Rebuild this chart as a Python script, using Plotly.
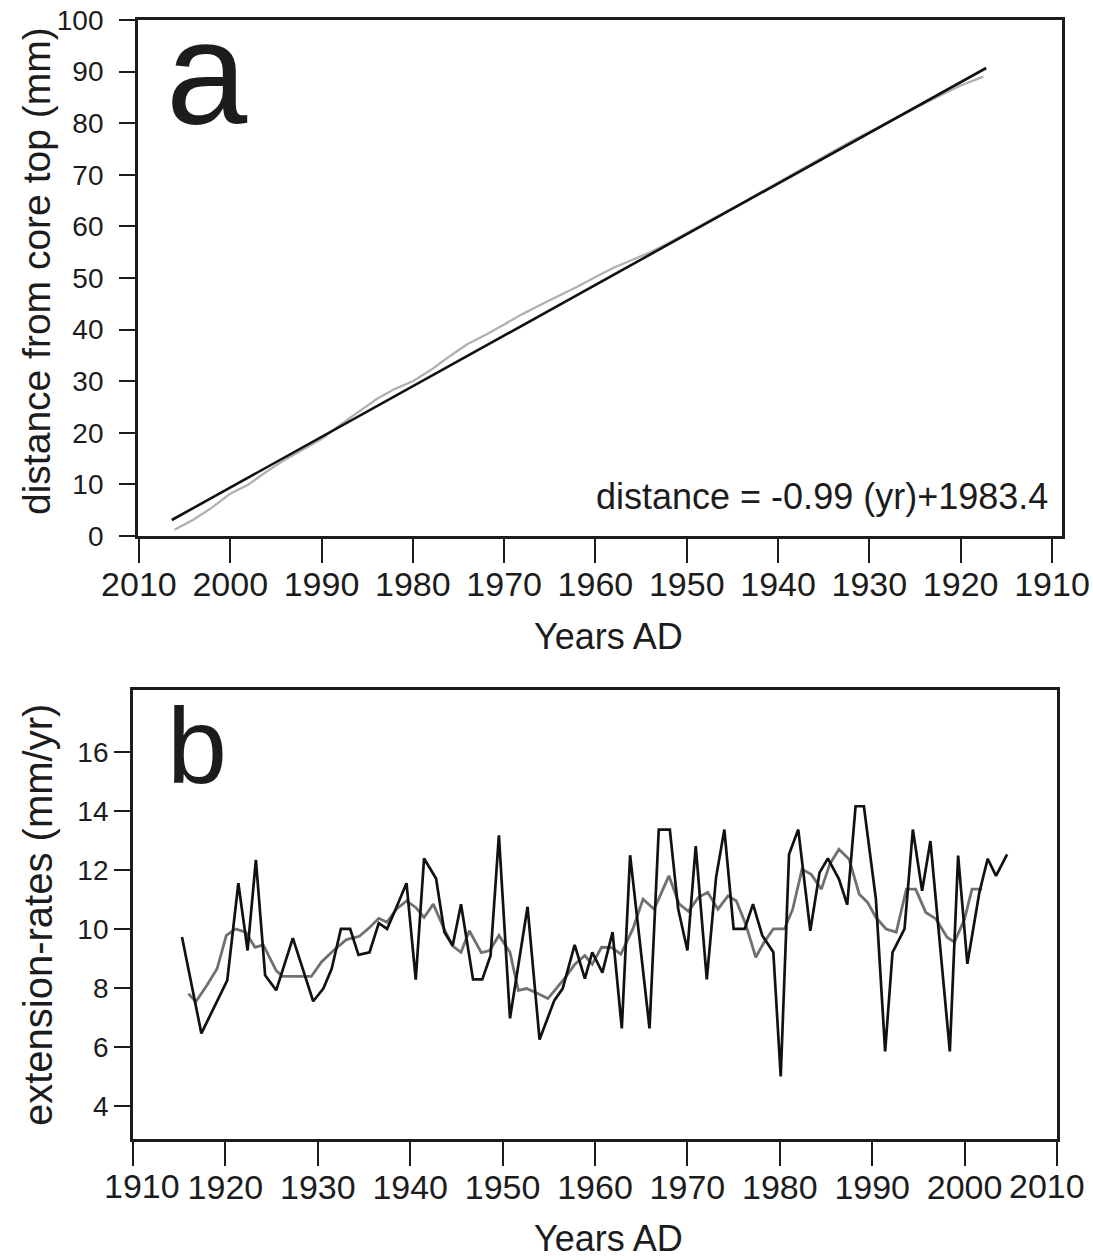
import plotly.graph_objects as go

W, H = 1093, 1260

# ---------------- Panel a data ----------------
a_years = [2006.1, 2004.0, 2002.0, 2000.0, 1998.0, 1996.0, 1994.0, 1992.0, 1990.0, 1988.0,
           1986.0, 1984.0, 1982.0, 1980.0, 1978.0, 1976.0, 1974.0, 1972.0, 1970.0, 1968.0,
           1966.0, 1964.0, 1962.0, 1960.0, 1958.0, 1956.0, 1954.0, 1952.0, 1950.0, 1948.0,
           1946.0, 1944.0, 1942.0, 1940.0, 1938.0, 1936.0, 1934.0, 1932.0, 1930.0, 1928.0,
           1926.0, 1924.0, 1922.0, 1920.0, 1918.0, 1917.5]
a_dist = [1.2, 3.2, 5.5, 8.2, 10.0, 12.5, 14.8, 16.8, 18.8, 21.5,
          24.0, 26.5, 28.5, 30.0, 32.2, 34.8, 37.2, 39.0, 41.0, 43.0,
          44.8, 46.5, 48.3, 50.2, 52.0, 53.5, 55.0, 56.8, 58.7, 60.6,
          62.5, 64.5, 66.5, 68.5, 70.5, 72.6, 74.5, 76.5, 78.3, 80.2,
          82.0, 83.8, 85.5, 87.3, 88.7, 89.0]
fit_years = [2006.4, 1917.2]
fit_dist = [3.1, 90.7]
a_xticks = [2010, 2000, 1990, 1980, 1970, 1960, 1950, 1940, 1930, 1920, 1910]
a_yticks = [0, 10, 20, 30, 40, 50, 60, 70, 80, 90, 100]
equation_text = "distance = -0.99 (yr)+1983.4"

# ---------------- Panel b data ----------------
b_years = [1915.3, 1917.4, 1920.2, 1921.4, 1922.4, 1923.3, 1924.3, 1925.5, 1927.3, 1929.5,
           1930.6, 1931.5, 1932.5, 1933.5, 1934.4, 1935.6, 1936.6, 1937.5, 1938.5, 1939.6,
           1940.6, 1941.5, 1942.8, 1943.7, 1944.6, 1945.5, 1946.8, 1947.8, 1948.7, 1949.6,
           1950.8, 1952.7, 1954.0, 1955.6, 1956.5, 1957.8, 1958.9, 1959.7, 1960.8, 1961.9,
           1962.9, 1963.8, 1965.9, 1966.9, 1968.1, 1969.0, 1970.0, 1970.9, 1972.1, 1973.1,
           1974.0, 1975.0, 1976.2, 1977.1, 1978.1, 1979.3, 1980.1, 1981.0, 1982.0, 1983.3,
           1984.3, 1985.2, 1986.4, 1987.3, 1988.2, 1989.1, 1990.4, 1991.4, 1992.2, 1993.5,
           1994.4, 1995.4, 1996.3, 1998.4, 1999.3, 2000.3, 2001.6, 2002.5, 2003.4, 2004.6]
b_rates = [9.73, 6.46, 8.26, 11.55, 9.27, 12.34, 8.43, 7.92, 9.69, 7.55,
           7.98, 8.65, 10.0, 10.0, 9.12, 9.21, 10.2, 10.0, 10.73, 11.55,
           8.28, 12.39, 11.71, 9.89, 9.44, 10.84, 8.29, 8.29, 9.10, 13.17,
           6.97, 10.75, 6.25, 7.58, 7.98, 9.46, 8.32, 9.21, 8.52, 9.89,
           6.63, 12.5, 6.63, 13.37, 13.37, 10.68, 9.27, 12.81, 8.29, 11.74,
           13.37, 10.0, 10.0, 10.84, 9.78, 9.21, 5.0, 12.53, 13.37, 9.94,
           11.91, 12.39, 11.69, 10.82, 14.16, 14.16, 11.01, 5.85, 9.21, 10.0,
           13.37, 11.29, 12.98, 5.85, 12.49, 8.82, 11.24, 12.38, 11.8, 12.53]

s_years = [1916.0, 1916.8, 1918.0, 1919.1, 1920.1, 1921.1, 1922.2, 1923.2, 1924.1, 1925.5,
           1926.2, 1929.3, 1930.4, 1931.7, 1933.1, 1934.5, 1935.6, 1936.6, 1937.5, 1938.5,
           1939.6, 1940.6, 1941.5, 1942.5, 1943.6, 1944.6, 1945.5, 1946.4, 1947.7, 1948.6,
           1949.6, 1950.8, 1951.7, 1952.6, 1953.8, 1954.9, 1955.8, 1956.9, 1957.8, 1958.9,
           1959.7, 1960.7, 1961.8, 1962.8, 1964.1, 1965.2, 1966.4, 1968.0, 1969.1, 1970.1,
           1971.2, 1972.2, 1973.3, 1974.4, 1975.3, 1976.3, 1977.4, 1978.3, 1979.3, 1980.5,
           1981.4, 1982.4, 1983.4, 1984.5, 1985.4, 1986.4, 1987.5, 1988.6, 1989.5, 1990.4,
           1991.5, 1992.6, 1993.7, 1994.7, 1995.8, 1996.9, 1998.1, 1998.9, 2000.0, 2000.8,
           2001.9]
s_rates = [7.81, 7.53, 8.09, 8.65, 9.78, 10.0, 9.89, 9.38, 9.46, 8.59,
           8.39, 8.39, 8.88, 9.27, 9.64, 9.75, 10.05, 10.36, 10.23, 10.67,
           10.95, 10.73, 10.39, 10.84, 10.05, 9.42, 9.21, 9.94, 9.2, 9.27,
           9.78, 9.21, 7.92, 7.98, 7.81, 7.64, 7.98, 8.4, 8.8, 9.1,
           8.8, 9.38, 9.37, 9.15, 10.0, 11.01, 10.67, 11.8, 10.85, 10.6,
           11.07, 11.24, 10.67, 11.12, 10.95, 10.17, 9.04, 9.55, 10.0, 10.0,
           10.67, 12.02, 11.85, 11.35, 12.19, 12.70, 12.36, 11.18, 10.9, 10.39,
           10.0, 9.89, 11.35, 11.35, 10.56, 10.34, 9.72, 9.55, 10.34, 11.35,
           11.35]
b_xticks = [1910, 1920, 1930, 1940, 1950, 1960, 1970, 1980, 1990, 2000, 2010]
b_yticks = [4, 6, 8, 10, 12, 14, 16]
# the two end labels of panel b are drawn nudged inward, as in the original
b_end_ticks = [1910, 2010]

FONT = "Liberation Sans, Arial, sans-serif"
INK = "#1c1c1c"


def px(x):
    return x / W


def py(y):
    return 1 - y / H


fig = go.Figure()

# Panel a traces
fig.add_trace(go.Scatter(x=a_years, y=a_dist, mode="lines",
                         line=dict(color="#b0b0b0", width=2.3),
                         xaxis="x", yaxis="y", showlegend=False))
fig.add_trace(go.Scatter(x=fit_years, y=fit_dist, mode="lines",
                         line=dict(color="#111111", width=2.6),
                         xaxis="x", yaxis="y", showlegend=False))

# Panel b traces
fig.add_trace(go.Scatter(x=s_years, y=s_rates, mode="lines",
                         line=dict(color="#707070", width=2.8),
                         xaxis="x2", yaxis="y2", showlegend=False))
fig.add_trace(go.Scatter(x=b_years, y=b_rates, mode="lines",
                         line=dict(color="#111111", width=2.7),
                         xaxis="x2", yaxis="y2", showlegend=False))

base = dict(showline=True, mirror=True, linecolor=INK, linewidth=2.8,
            ticks="outside", tickcolor=INK, tickwidth=2.3,
            showgrid=False, zeroline=False, automargin=False,
            ticklabeloverflow="allow")
XFONT = dict(family=FONT, size=34, color=INK)
xstyle = dict(base, ticklen=24, ticklabelstandoff=-8, tickfont=XFONT)
ytick_font = dict(family=FONT, size=28, color=INK)

b_ticktext = ["" if t in b_end_ticks else str(t) for t in b_xticks]

fig.update_layout(
    width=W, height=H,
    margin=dict(l=0, r=0, t=0, b=0, autoexpand=False),
    paper_bgcolor="white", plot_bgcolor="white",
    xaxis=dict(domain=[px(138), px(1062)], range=[2010.1, 1908.9],
               tickvals=a_xticks, anchor="y", **xstyle),
    yaxis=dict(domain=[py(536), py(20)], range=[0, 100],
               tickvals=a_yticks, anchor="x", ticklen=16,
               ticklabelstandoff=10, tickfont=ytick_font, **base),
    xaxis2=dict(domain=[px(133), px(1057)], range=[1910, 2010],
                tickvals=b_xticks, ticktext=b_ticktext, anchor="y2", **xstyle),
    yaxis2=dict(domain=[py(1139), py(690)], range=[2.88, 18.1],
                tickvals=b_yticks, anchor="x2", ticklen=16,
                ticklabelstandoff=0, tickfont=ytick_font, **base),
)

ann = [
    dict(text="distance from core top (mm)", x=px(36), y=py(271), textangle=-90,
         font=dict(size=39)),
    dict(text="Years AD", x=px(608), y=py(636), font=dict(size=36)),
    dict(text="extension-rates (mm/yr)", x=px(38), y=py(915), textangle=-90,
         font=dict(size=40)),
    dict(text="Years AD", x=px(608), y=py(1238), font=dict(size=36)),
    dict(text="a", x=px(207), y=py(73), font=dict(size=146)),
    dict(text="b", x=px(197), y=py(745), font=dict(size=108)),
    dict(text=equation_text, x=px(1050), y=py(497), xanchor="right",
         font=dict(size=36)),
]
for a in ann:
    a.setdefault("xanchor", "center")
    a["yanchor"] = "middle"
    a["xref"] = "paper"
    a["yref"] = "paper"
    a["showarrow"] = False
    a["font"] = dict(family=FONT, color=INK, **a["font"])
    fig.add_annotation(**a)

# end tick labels of panel b, positioned on the axis values and nudged inward
for t, shift in zip(b_end_ticks, [9, -10]):
    fig.add_annotation(text=str(t), x=t, xref="x2", y=py(1186), yref="paper",
                       xanchor="center", yanchor="middle", xshift=shift,
                       showarrow=False, font=XFONT)

fig.write_html("out.html")
